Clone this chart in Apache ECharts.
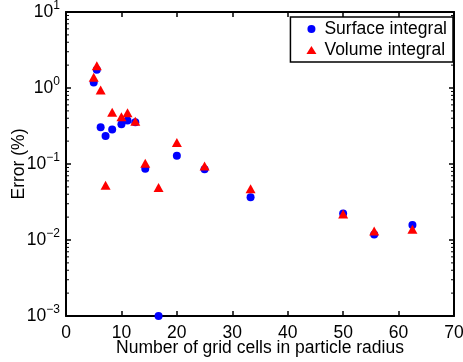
<!DOCTYPE html>
<html>
<head>
<meta charset="utf-8">
<script src="https://cdn.jsdelivr.net/npm/echarts@6/dist/echarts.min.js"></script>
<style>html,body{margin:0;padding:0;background:#fff;}#c{width:463px;height:362px;}</style>
</head>
<body>
<div id="c"></div>
<script>
// Data
const surfaceX = [5.0, 5.56, 6.25, 7.14, 8.33, 10.0, 11.1, 12.5, 14.3, 16.7, 20.0, 25.0, 33.3, 50.0, 55.6, 62.5];
const surfaceY = [1.18, 1.74, 0.305, 0.234, 0.284, 0.334, 0.374, 0.355, 0.0866, 0.001, 0.128, 0.085, 0.0366, 0.0224, 0.0118, 0.0158];
const volumeX  = [5.0, 5.56, 6.25, 7.14, 8.33, 10.0, 11.1, 12.5, 14.3, 16.7, 20.0, 25.0, 33.3, 50.0, 55.6, 62.5];
const volumeY  = [1.39, 1.96, 0.94, 0.0525, 0.479, 0.42, 0.474, 0.366, 0.102, 0.049, 0.192, 0.094, 0.0474, 0.022, 0.0131, 0.0139];
const minorTicks = [];
[0.001, 0.01, 0.1, 1].forEach(function (d) { for (let k = 2; k <= 9; k++) minorTicks.push(+(d * k).toPrecision(3)); });

const FONT = 'Liberation Sans';
const chart = echarts.init(document.getElementById('c'));
const axisLine = { show: true, onZero: false, lineStyle: { color: '#000', width: 2 } };
const axisTick = { show: true, inside: true, length: 5, lineStyle: { color: '#000', width: 1.5 } };
chart.setOption({
  animation: false,
  backgroundColor: '#fff',
  grid: { left: 66, right: 9, top: 12, bottom: 46, containLabel: false, outerBoundsMode: 'none' },
  xAxis: [
    { type: 'value', min: 0, max: 70, interval: 10, position: 'bottom',
      name: 'Number of grid cells in particle radius', nameLocation: 'middle', nameGap: 23, nameMoveOverlap: false,
      nameTextStyle: { fontFamily: FONT, fontSize: 17.5, color: '#000' },
      axisLine: axisLine, axisTick: axisTick, splitLine: { show: false },
      axisLabel: { fontFamily: FONT, fontSize: 17.5, color: '#000', margin: 8 } },
    { type: 'value', min: 0, max: 70, interval: 10, position: 'top',
      axisLine: axisLine, axisTick: axisTick, splitLine: { show: false }, axisLabel: { show: false } }
  ],
  yAxis: [
    { type: 'log', logBase: 10, min: 0.001, max: 10, position: 'left',
      name: 'Error (%)', nameLocation: 'middle', nameGap: 38, nameRotate: 90, nameMoveOverlap: false,
      nameTextStyle: { fontFamily: FONT, fontSize: 17.5, color: '#000' },
      axisLine: axisLine, axisTick: axisTick, splitLine: { show: false }, minorTick: { show: false },
      axisLabel: { margin: 6, color: '#000',
        formatter: function (v) {
          const e = Math.round(Math.log10(v));
          const s = String(e).replace('-', '\u2212');
          return '{b|10}{s|' + s + '}';
        },
        rich: {
          b: { fontFamily: FONT, fontSize: 17.5, color: '#000' },
          s: { fontFamily: FONT, fontSize: 12, color: '#000', padding: [0, 0, 12, 0] }
        } } },
    { type: 'log', logBase: 10, min: 0.001, max: 10, position: 'right',
      axisLine: axisLine, axisTick: axisTick, splitLine: { show: false }, axisLabel: { show: false } }
  ],
  legend: {
    orient: 'vertical', right: 10, top: 17,
    padding: [3, 6, 3, 16], itemGap: 3, itemWidth: 10, itemHeight: 8,
    borderColor: '#000', borderWidth: 1.5, backgroundColor: '#fff', borderRadius: 0,
    textStyle: { fontFamily: FONT, fontSize: 17.5, color: '#000', lineHeight: 18, padding: [0, 0, 0, 3] },
    data: [{ name: 'Surface integral', icon: 'circle' }, { name: 'Volume integral', icon: 'triangle' }]
  },
  series: [
    { type: 'custom', silent: true, z: 1, clip: false,
      data: minorTicks.map(function (v) { return [0, v]; }),
      renderItem: function (params, api) {
        const cs = params.coordSys;
        const y = api.coord([0, api.value(1)])[1];
        const st = { stroke: '#000', lineWidth: 1 };
        return { type: 'group', children: [
          { type: 'line', shape: { x1: cs.x, y1: y, x2: cs.x + 3, y2: y }, style: st },
          { type: 'line', shape: { x1: cs.x + cs.width - 3, y1: y, x2: cs.x + cs.width, y2: y }, style: st }
        ] };
      } },
    { name: 'Surface integral', type: 'scatter', symbol: 'circle', symbolSize: 8, clip: false,
      itemStyle: { color: '#0000ff', opacity: 1 },
      data: surfaceX.map(function (x, i) { return [x, surfaceY[i]]; }) },
    { name: 'Volume integral', type: 'scatter', symbol: 'triangle', symbolSize: [10, 9], clip: false,
      itemStyle: { color: '#ff0000', opacity: 1 },
      data: volumeX.map(function (x, i) { return [x, volumeY[i]]; }) }
  ]
});
</script>
</body>
</html>
